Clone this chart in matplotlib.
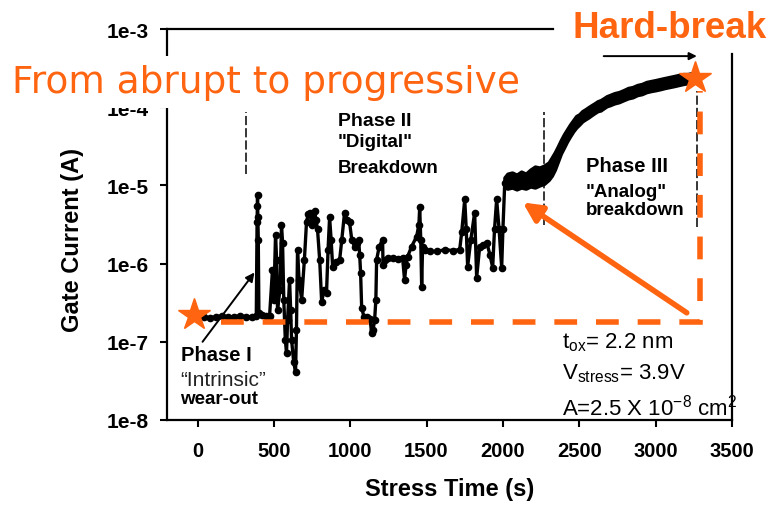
import matplotlib
matplotlib.use('Agg')
import matplotlib.pyplot as plt
from matplotlib.ticker import NullLocator

plt.rcParams['font.family'] = 'Liberation Sans'
plt.rcParams['mathtext.fontset'] = 'custom'
plt.rcParams['mathtext.rm'] = 'Liberation Sans'
plt.rcParams['mathtext.default'] = 'regular'

ORANGE = '#FF6410'

# ------------------------------
# DATA
# ------------------------------
# phase I / II trace: stress time (s) and gate current (A)
t = [0, 40, 80, 120, 160, 200, 240, 280, 320, 360, 385,
     390, 392, 393, 395, 398, 402,
     420, 450, 472, 491, 500, 511, 518, 524, 540, 550, 557, 565, 575, 583, 590,
     603, 610, 616, 630, 642, 648, 655, 665, 682, 700, 714, 725, 734, 750, 767,
     776, 786, 800, 813, 830, 845, 855, 865, 875, 885, 905, 931, 945, 963, 980,
     996, 1010, 1029, 1042, 1055, 1062, 1068, 1075, 1090, 1107, 1130, 1140, 1150,
     1160, 1168, 1173, 1190, 1212, 1215, 1225, 1250, 1280, 1310, 1343, 1356,
     1366, 1376, 1402, 1435, 1450, 1455, 1462, 1468, 1474, 1490, 1520, 1570,
     1619, 1670, 1717, 1730, 1750, 1760, 1769, 1790, 1815, 1828, 1848, 1870,
     1894, 1915, 1933, 1945, 1959, 1975, 1992, 2000, 2012]

ig = [2.09e-7, 2.09e-7, 2.03e-7, 2.09e-7, 2.15e-7, 2.09e-7, 2.09e-7, 2.15e-7,
      2.09e-7, 2.09e-7, 2.15e-7,
      3.36e-6, 5.38e-6, 7.44e-6, 4.0e-6, 2.03e-6, 2.35e-7,
      2.22e-7, 2.15e-7, 2.15e-7, 8.4e-7, 3.45e-7, 2.35e-6, 1.12e-6, 2.57e-7,
      4.64e-7, 3.16e-6, 1.86e-6, 3.45e-7, 1.06e-7, 7.2e-8, 1.91e-7,
      6.2e-7, 2.57e-7, 1.06e-7, 5.5e-8, 4.1e-8, 1.43e-7, 1.51e-6, 6.2e-7, 3.45e-7,
      1.12e-6, 3.45e-6, 4.25e-6, 4.5e-6, 3.16e-6, 4.64e-6,
      3.66e-6, 2.73e-6, 1.12e-6, 3.26e-7, 4.64e-7, 4.25e-7, 1.51e-6, 3.89e-6,
      2.03e-6, 9.16e-7, 1.06e-6, 1.12e-6, 2.03e-6, 4.5e-6, 3.66e-6,
      3.36e-6, 2.03e-6, 1.65e-6, 1.86e-6, 2.03e-6, 1.30e-6, 7.67e-7, 2.73e-7,
      2.09e-7, 2.09e-7, 1.97e-7, 1.3e-7, 1.43e-7,
      1.91e-7, 3.45e-7, 1.12e-6, 1.65e-6, 2.03e-6, 9.7e-7, 1.12e-6, 1.19e-6,
      1.19e-6, 1.16e-6, 1.19e-6, 6.2e-7,
      9.7e-7, 1.23e-6, 1.65e-6, 2.22e-6, 3.16e-6, 5.22e-6, 2.03e-6, 5.07e-7,
      1.65e-6, 1.51e-6, 1.43e-6, 1.43e-6,
      1.51e-6, 1.47e-6, 1.51e-6, 2.5e-6, 6.62e-6, 2.73e-6, 9.16e-7, 2.03e-6,
      4.5e-6, 6.62e-7, 1.65e-6, 1.75e-6,
      1.86e-6, 1.30e-6, 8.9e-7, 2.73e-6, 6.62e-6, 2.73e-6, 8.9e-7, 2.73e-6,
      1.08e-5]

# noisy band (plateau + phase III): time, upper and lower edge of the trace
band_t = [2010, 2030, 2060, 2090, 2120, 2150, 2180, 2210, 2240, 2270,
          2300, 2320, 2340, 2360, 2380, 2400, 2420, 2440, 2460, 2480, 2500,
          2520, 2540, 2560, 2580, 2600, 2620, 2640, 2660, 2680, 2700, 2730,
          2760, 2790, 2820, 2850, 2880, 2910, 2940, 2970, 3000, 3030, 3060,
          3090, 3120, 3150, 3180, 3210, 3240, 3260]
band_hi = [1.26e-5, 1.41e-5, 1.46e-5, 1.37e-5, 1.50e-5, 1.41e-5, 1.59e-5,
           1.74e-5, 1.69e-5, 1.79e-5,
           1.96e-5, 2.27e-5, 2.64e-5, 3.15e-5, 3.8e-5, 4.5e-5, 5.2e-5, 6.0e-5,
           6.8e-5, 7.7e-5, 8.1e-5,
           8.9e-5, 9.4e-5, 1.0e-4, 1.06e-4, 1.12e-4, 1.19e-4, 1.23e-4, 1.30e-4,
           1.38e-4, 1.43e-4, 1.51e-4,
           1.56e-4, 1.65e-4, 1.76e-4, 1.81e-4, 1.92e-4, 1.98e-4, 2.10e-4,
           2.16e-4, 2.22e-4, 2.29e-4, 2.36e-4,
           2.43e-4, 2.50e-4, 2.58e-4, 2.65e-4, 2.65e-4, 2.73e-4, 2.65e-4]
band_lo = [9.4e-6, 9.1e-6, 9.4e-6, 8.9e-6, 9.4e-6, 9.1e-6, 9.7e-6, 9.4e-6,
           1.0e-5, 1.05e-5,
           1.18e-5, 1.33e-5, 1.59e-5, 2.02e-5, 2.56e-5, 3.05e-5, 3.65e-5,
           4.25e-5, 4.9e-5, 5.5e-5, 6.0e-5,
           6.6e-5, 7.0e-5, 7.4e-5, 7.9e-5, 8.4e-5, 8.9e-5, 9.1e-5, 9.7e-5,
           1.03e-4, 1.06e-4, 1.12e-4,
           1.16e-4, 1.23e-4, 1.30e-4, 1.34e-4, 1.43e-4, 1.47e-4, 1.56e-4,
           1.61e-4, 1.65e-4, 1.70e-4, 1.76e-4,
           1.81e-4, 1.86e-4, 1.92e-4, 1.98e-4, 2.03e-4, 2.10e-4, 2.16e-4]

x_ticks = [0, 500, 1000, 1500, 2000, 2500, 3000, 3500]
y_ticks = [1e-8, 1e-7, 1e-6, 1e-5, 1e-4, 1e-3]
y_labels = ['1e-8', '1e-7', '1e-6', '1e-5', '1e-4', '1e-3']

# annotation anchors (time, current)
star_pts_t = [-20, 3257]
star_pts_i = [2.22e-7, 2.36e-4]
hb_path_t = [157, 3290, 3290]
hb_path_i = [1.8e-7, 1.8e-7, 1.6e-4]
phase_bounds_t = [315, 2267, 3270]
phase_bounds_top = [8.6e-5, 8.6e-5, 1.61e-4]
phase_bounds_bot = [1.41e-5, 3.16e-6, 2.9e-6]

# ------------------------------
# FIGURE
# ------------------------------
fig = plt.figure(figsize=(7.73, 5.06), dpi=100)
ax = fig.add_axes([0.216, 0.168, 0.7309, 0.7727])

ax.plot(t, ig, color='black', lw=2.4, marker='o', ms=4.5, zorder=3)
ax.fill_between(band_t, band_lo, band_hi, color='black', lw=2.5, zorder=3)

ax.set_yscale('log')
ax.set_xlim(-200, 3500)
ax.set_ylim(1e-8, 1e-3)
ax.set_xticks(x_ticks)
ax.set_xticklabels([str(v) for v in x_ticks], fontsize=14.5, fontweight='bold')
ax.set_yticks(y_ticks)
ax.set_yticklabels(y_labels, fontsize=15, fontweight='bold')
ax.yaxis.set_minor_locator(NullLocator())
ax.tick_params(axis='both', direction='out', length=5, width=1.5, color='black')
ax.tick_params(axis='x', pad=10)
ax.tick_params(axis='y', pad=8)

for s in ax.spines.values():
    s.set_linewidth(1.6)
ax.spines['top'].set_bounds(-200, 2326)
ax.spines['right'].set_bounds(1e-8, 4.8e-4)

ax.set_xlabel('Stress Time (s)', fontsize=17, fontweight='bold')
ax.xaxis.set_label_coords(0.5, -0.145)
ax.set_ylabel('Gate Current (A)', fontsize=17, fontweight='bold')
ax.yaxis.set_label_coords(-0.147, 0.463)

# phase boundaries
for xb, yt, yb in zip(phase_bounds_t, phase_bounds_top, phase_bounds_bot):
    ax.plot([xb, xb], [yb, yt], color='black', lw=1.1, dashes=[6, 2], zorder=2)

# orange dashed path to hard breakdown
ax.plot(hb_path_t, hb_path_i, color=ORANGE, lw=4, dashes=[4.1, 3.4],
        solid_joinstyle='miter', dash_joinstyle='miter', zorder=4)
ax.plot(star_pts_t, star_pts_i, linestyle='none', marker='*', ms=24,
        color=ORANGE, mec=ORANGE, zorder=6)

# orange arrow
ax.annotate('', xy=(2130, 6.05e-6), xytext=(3204, 2.35e-7),
            arrowprops=dict(arrowstyle='-|>', color=ORANGE, lw=4,
                            mutation_scale=28, shrinkA=0, shrinkB=0), zorder=5)
# phase I arrow
ax.annotate('', xy=(373, 7.7e-7), xytext=(33, 1.0e-7),
            arrowprops=dict(arrowstyle='-|>', color='black', lw=1.4,
                            mutation_scale=13, shrinkA=0, shrinkB=0), zorder=5)
# hard-break arrow
ax.annotate('', xy=(3270, 4.5e-4), xytext=(2660, 4.5e-4), annotation_clip=False,
            arrowprops=dict(arrowstyle='-|>', color='black', lw=1.4,
                            mutation_scale=11, shrinkA=0, shrinkB=0), zorder=5)

# phase texts
ax.text(917, 6.0e-5, 'Phase II', fontsize=14, fontweight='bold')
ax.text(917, 3.15e-5, '"Digital"', fontsize=13.5, fontweight='bold')
ax.text(917, 1.5e-5, 'Breakdown', fontsize=13.5, fontweight='bold')

ax.text(2543, 1.55e-5, 'Phase III', fontsize=14.5, fontweight='bold')
ax.text(2543, 7.4e-6, '"Analog"', fontsize=13.5, fontweight='bold')
ax.text(2543, 4.25e-6, 'breakdown', fontsize=13.5, fontweight='bold')

ax.text(-111, 5.9e-8, 'Phase I', fontsize=14.5, fontweight='bold')
ax.text(-111, 2.8e-8, '\u201cIntrinsic\u201d', fontsize=15, color='#222222')
ax.text(-111, 1.65e-8, 'wear-out', fontsize=13.5, fontweight='bold')

ax.text(2385, 8.4e-8, r't$_{ox}$= 2.2 nm', fontsize=16)
ax.text(2385, 3.45e-8, r'V$_{stress}$= 3.9V', fontsize=16)
ax.text(2385, 1.16e-8, r'A=2.5 X 10$^{-8}$ cm$^{2}$', fontsize=16)

# headline texts
fig.text(0.0155, 0.816, 'From abrupt to progressive', fontsize=27,
         family='DejaVu Sans', color=ORANGE,
         bbox=dict(facecolor='white', edgecolor='none', pad=6))
fig.text(0.741, 0.925, 'Hard-break', fontsize=26.5, fontweight='bold',
         color=ORANGE)

fig.savefig('out.png', dpi=100)
